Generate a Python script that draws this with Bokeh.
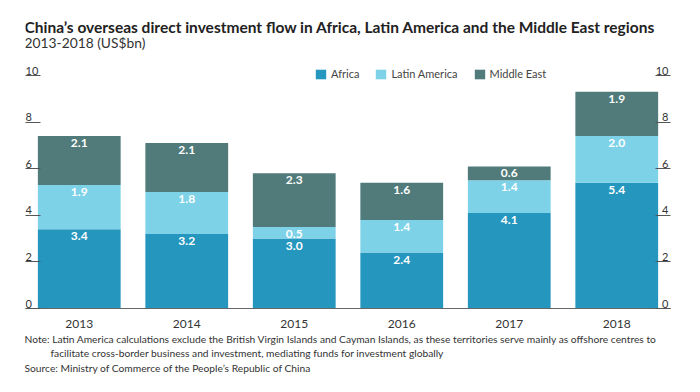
from bokeh.plotting import figure
from bokeh.models import (ColumnDataSource, FactorRange, Range1d, LinearAxis, FixedTicker,
                          Label, LabelSet, Legend, LegendItem, Title)
from bokeh.core.properties import value
from bokeh.embed import file_html
from bokeh.resources import INLINE

years = ["2013", "2014", "2015", "2016", "2017", "2018"]
africa = [3.4, 3.2, 3.0, 2.4, 4.1, 5.4]
latin_america = [1.9, 1.8, 0.5, 1.4, 1.4, 2.0]
middle_east = [2.1, 2.1, 2.3, 1.6, 0.6, 1.9]
series_names = ["Africa", "Latin America", "Middle East"]
y_ticks = [0, 2, 4, 6, 8, 10]
y_tick_labels = ["0", "2", "4", "6", "8", "10"]

title_text = "China\u2019s overseas direct investment flow in Africa, Latin America and the Middle East regions"
subtitle_text = "2013-2018 (US$bn)"
note1 = ("Note: Latin America calculations exclude the British Virgin Islands and Cayman Islands, "
         "as these territories serve mainly as offshore centres to")
note2 = "facilitate cross-border business and investment, mediating funds for investment globally"
source_text = "Source: Ministry of Commerce of the People\u2019s Republic of China"

colors = ["#2596be", "#7dd2e8", "#507b7a"]
FONT = "Lato"
TXT = "#333333"

src = ColumnDataSource(dict(years=years, Africa=africa, **{"Latin America": latin_america},
                            **{"Middle East": middle_east}))

# frame reaches the top of the canvas; the y scale keeps 0..10 where the reference has it
p = figure(width=684, height=376, x_range=FactorRange(*years, range_padding=0),
           y_range=Range1d(0, 13.22), output_backend="svg", toolbar_location=None,
           min_border_left=25, min_border_right=14, min_border_top=0, min_border_bottom=68)
p.outline_line_color = None
p.grid.grid_line_color = None
p.background_fill_color = "white"
p.border_fill_color = "white"

renderers = p.vbar_stack(series_names, x="years", width=0.77, source=src, color=colors,
                         line_color=None)

# x axis
xa = p.xaxis[0]
xa.axis_line_color = "#666666"
xa.major_tick_line_color = None
xa.minor_tick_line_color = None
xa.major_label_text_font = FONT
xa.major_label_text_font_size = "12px"
xa.major_label_text_color = TXT
xa.major_label_standoff = 5

# left / right axes: only short tick lines
ya = p.yaxis[0]
ya.ticker = FixedTicker(ticks=y_ticks)
ya.axis_line_color = None
ya.major_tick_in = 15
ya.major_tick_out = 0
ya.major_tick_line_color = "#555555"
ya.minor_tick_line_color = None
ya.major_label_text_color = None
ya.major_label_standoff = 0

ra = LinearAxis(ticker=FixedTicker(ticks=y_ticks), axis_line_color=None, major_tick_in=15,
                major_tick_out=0, major_tick_line_color="#555555", minor_tick_line_color=None,
                major_label_text_color=None, major_label_standoff=0)
p.add_layout(ra, "right")

# tick labels above the tick lines
tick_src = ColumnDataSource(dict(y=y_ticks, t=y_tick_labels))
p.add_layout(LabelSet(x=0, y="y", text="t", source=tick_src, x_units="screen",
                      text_align="left", text_baseline="bottom", y_offset=1,
                      text_font=value(FONT), text_font_size="11px", text_color=TXT))
p.add_layout(LabelSet(x=643, y="y", text="t", source=tick_src, x_units="screen",
                      text_align="right", text_baseline="bottom", y_offset=1,
                      text_font=value(FONT), text_font_size="11px", text_color=TXT))

# value labels
lx, ly, lt = [], [], []
for i, yr in enumerate(years):
    c = 0.0
    for vals in (africa, latin_america, middle_east):
        c += vals[i]
        lx.append(yr)
        ly.append(c)
        lt.append(f"{vals[i]:.1f}")
p.text(x=lx, y=ly, text=lt, text_align="center", text_baseline="top", y_offset=3,
       text_color="white", text_font=value(FONT), text_font_style="bold", text_font_size="12px")

# legend
legend = Legend(items=[LegendItem(label=n, renderers=[r]) for n, r in zip(series_names, renderers)],
                orientation="horizontal", location=(289, 228), padding=0, margin=0,
                spacing=15, label_standoff=4, glyph_width=13, glyph_height=12,
                label_height=12, label_width=10, label_text_font=FONT,
                label_text_font_size="11px", label_text_color="#444444",
                background_fill_alpha=0, border_line_color=None)
p.add_layout(legend, "center")

# title and subtitle as labels at the top of the frame
p.add_layout(Label(x=-1, y=282, x_units="screen", y_units="screen", text=title_text,
                   text_font=FONT, text_font_size="15.5px", text_font_style="bold",
                   text_color="#222222", text_baseline="middle", text_align="left"))
p.add_layout(Label(x=-1, y=266.5, x_units="screen", y_units="screen", text=subtitle_text,
                   text_font=FONT, text_font_size="13.8px", text_font_style="normal",
                   text_color=TXT, text_baseline="middle", text_align="left"))

# notes below the x axis
for txt, off, so in ((note1, -1, 0), (note2, 25, 0), (source_text, -1, 2)):
    p.add_layout(Title(text=txt, align="left", offset=off, standoff=so,
                       text_font=FONT, text_font_size="10.25px", text_font_style="normal",
                       text_color=TXT), "below")

open("out.html", "w").write(file_html(p, INLINE))
